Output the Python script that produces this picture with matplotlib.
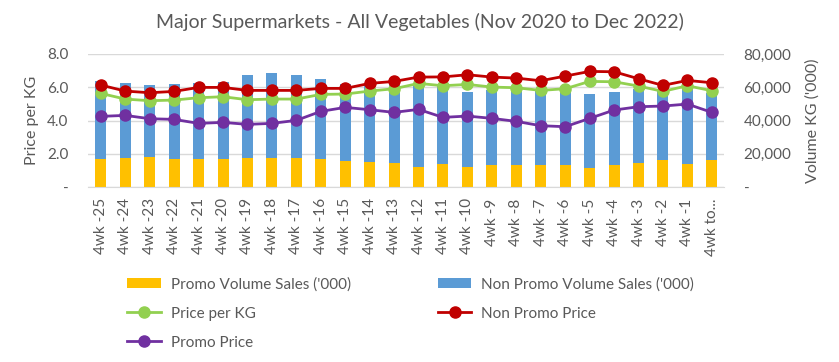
import matplotlib.pyplot as plt
import numpy as np
from matplotlib.ticker import FuncFormatter

plt.rcParams['font.family'] = ['Lato', 'DejaVu Sans']

periods = ['4wk -25', '4wk -24', '4wk -23', '4wk -22', '4wk -21', '4wk -20', '4wk -19',
           '4wk -18', '4wk -17', '4wk -16', '4wk -15', '4wk -14', '4wk -13', '4wk -12',
           '4wk -11', '4wk -10', '4wk -9', '4wk -8', '4wk -7', '4wk -6', '4wk -5',
           '4wk -4', '4wk -3', '4wk -2', '4wk -1', '4wk to...']

# volumes ('000 kg)
total_vol = [63800, 62600, 61400, 62000, 62600, 63200, 67500, 68600, 67500, 65200,
             62200, 61500, 61200, 62000, 60500, 57100, 58200, 58800, 57500, 58200,
             55900, 57100, 59200, 58200, 58800, 56400]
promo_vol = [17000, 17600, 18000, 17000, 17000, 17000, 17600, 17600, 17600, 17000,
             15800, 15200, 14400, 12000, 14000, 12000, 13200, 13200, 13200, 13200,
             11600, 13200, 14400, 16400, 14000, 16400]
nonpromo_vol = [t - p for t, p in zip(total_vol, promo_vol)]

# prices per kg
price_kg = [5.63, 5.29, 5.19, 5.23, 5.37, 5.43, 5.25, 5.29, 5.29, 5.57, 5.59, 5.77, 5.91,
            6.23, 6.09, 6.17, 6.01, 5.97, 5.81, 5.91, 6.35, 6.33, 6.07, 5.75, 6.09, 5.79]
nonpromo_price = [6.13, 5.77, 5.67, 5.75, 5.99, 5.99, 5.81, 5.81, 5.81, 5.93, 5.93, 6.23,
                  6.35, 6.61, 6.62, 6.75, 6.61, 6.55, 6.39, 6.67, 6.95, 6.93, 6.51, 6.11,
                  6.41, 6.27]
promo_price = [4.25, 4.31, 4.11, 4.07, 3.83, 3.89, 3.77, 3.83, 4.01, 4.55, 4.79, 4.65, 4.49,
               4.67, 4.19, 4.27, 4.13, 3.95, 3.69, 3.63, 4.13, 4.63, 4.83, 4.87, 4.99, 4.49]

grey = '#595959'
x = np.arange(len(periods))

fig = plt.figure(figsize=(8.39, 3.62), dpi=100)
ax = fig.add_axes([0.105, 0.483, 0.758, 0.368])
ax2 = ax.twinx()

# bars on the volume axis, underneath
ax2.grid(axis='y', color='#d9d9d9', lw=1)
ax2.set_axisbelow(True)
b1 = ax2.bar(x, promo_vol, width=0.45, color='#FFC000', label="Promo Volume Sales ('000)")
b2 = ax2.bar(x, nonpromo_vol, width=0.45, bottom=promo_vol, color='#5B9BD5',
             label="Non Promo Volume Sales ('000)")
ax2.set_ylim(0, 80000)
ax2.set_yticks([0, 20000, 40000, 60000, 80000])
ax2.yaxis.set_major_formatter(FuncFormatter(lambda v, p: '-' if v == 0 else f'{v:,.0f}'))
ax2.set_ylabel("Volume KG ('000)", color=grey, fontsize=11.5, labelpad=10)

# lines on the price axis, on top
ax.set_zorder(ax2.get_zorder() + 1)
ax.patch.set_visible(False)
l1, = ax.plot(x, price_kg, color='#92D050', lw=2, marker='o', ms=8, label='Price per KG')
l2, = ax.plot(x, nonpromo_price, color='#C00000', lw=2, marker='o', ms=8, label='Non Promo Price')
l3, = ax.plot(x, promo_price, color='#7030A0', lw=2, marker='o', ms=8, label='Promo Price')
ax.set_ylim(0, 8)
ax.set_yticks([0, 2, 4, 6, 8])
ax.yaxis.set_major_formatter(FuncFormatter(lambda v, p: '-' if v == 0 else f'{v:.1f}'))
ax.set_ylabel('Price per KG', color=grey, fontsize=11.5, labelpad=6)
ax.set_xlim(-0.52, len(periods) - 0.5)
ax.set_xticks(x)
ax.set_xticklabels(periods, rotation=90)

for a in (ax, ax2):
    for s in a.spines.values():
        s.set_visible(False)
    a.tick_params(length=0, colors=grey, labelsize=11)
ax.tick_params(axis='y', pad=14)
ax2.tick_params(axis='y', pad=14)
ax.tick_params(axis='x', pad=8)
ax.spines['bottom'].set_visible(True)
ax.spines['bottom'].set_color('#d9d9d9')

fig.suptitle('Major Supermarkets - All Vegetables (Nov 2020 to Dec 2022)',
             color=grey, fontsize=14, y=0.965)

fig.legend([b1, l1, l3, b2, l2],
           [h.get_label() for h in (b1, l1, l3, b2, l2)],
           ncol=2, loc='upper left', bbox_to_anchor=(0.135, 0.273),
           frameon=False, fontsize=11, labelcolor=grey,
           columnspacing=5.7, handlelength=2.2, handletextpad=0.65, labelspacing=1.0)

fig.savefig('out.png', dpi=100)
